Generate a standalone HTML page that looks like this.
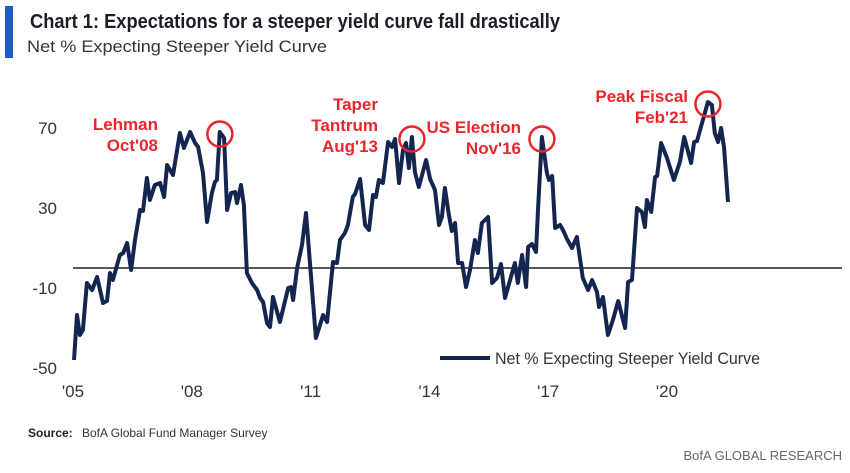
<!DOCTYPE html>
<html><head><meta charset="utf-8"><style>
html,body{margin:0;padding:0;background:#fff;}
svg{display:block;font-family:"Liberation Sans",sans-serif;}
</style></head><body>
<svg id="chart" width="850" height="473" viewBox="0 0 850 473">
<rect x="5" y="6" width="8" height="52" fill="#1f5fbf"/>
<text x="30" y="28" font-size="20" font-weight="bold" fill="#1c1c28" textLength="530" lengthAdjust="spacingAndGlyphs">Chart 1: Expectations for a steeper yield curve fall drastically</text>
<text x="27" y="52" font-size="17" fill="#333" textLength="300" lengthAdjust="spacingAndGlyphs">Net % Expecting Steeper Yield Curve</text>
<g id="yticks"></g>
<g id="xticks"></g>
<line x1="73" y1="268" x2="842" y2="268" stroke="#222" stroke-width="1.5"/>
<path id="series" fill="none" stroke="#142650" stroke-width="4" stroke-linejoin="round"/>
<g id="annots"></g>
<line x1="440" y1="358" x2="490" y2="358" stroke="#142650" stroke-width="4"/>
<text x="495" y="364" font-size="17" fill="#333" textLength="265" lengthAdjust="spacingAndGlyphs">Net % Expecting Steeper Yield Curve</text>
<text x="28" y="437" font-size="12" font-weight="bold" fill="#222">Source:</text>
<text x="82" y="437" font-size="12" fill="#333">BofA Global Fund Manager Survey</text>
<text x="842" y="460" font-size="13" fill="#666" text-anchor="end">BofA GLOBAL RESEARCH</text>
</svg>
<script>
const months = [0.3,1.2,2.1,3.0,4.2,5.8,7.3,9.1,10.3,11.2,12.1,14.2,15.2,16.4,17.6,18.8,20.3,21.2,22.4,23.3,24.8,26.4,27.6,28.5,30.3,32.4,33.6,35.5,37.0,37.9,39.4,40.6,42.1,43.0,43.6,44.5,45.8,46.7,47.9,49.1,49.7,50.9,51.8,52.7,54.2,55.8,56.7,57.6,58.8,59.7,60.6,62.7,65.2,66.1,66.7,67.9,69.4,70.6,73.6,75.8,77.0,78.8,80.0,80.9,82.4,83.3,84.8,85.5,87.0,88.5,89.7,90.9,91.8,92.7,93.9,95.5,96.7,97.6,98.8,100.0,100.9,101.8,102.7,103.6,104.8,107.0,108.2,109.7,110.9,111.8,112.7,113.9,114.8,115.8,116.7,117.9,119.1,120.3,121.8,122.7,123.9,125.8,127.0,128.5,129.7,130.9,133.9,134.8,136.1,137.3,137.9,139.1,140.3,140.9,142.1,143.6,144.2,145.2,146.1,147.6,148.5,149.7,151.2,152.7,154.5,156.1,157.3,158.8,159.4,160.6,162.1,163.6,165.2,167.3,168.2,169.4,170.9,172.4,173.3,173.9,175.2,176.4,177.0,178.2,180.0,182.1,183.9,185.2,187.3,188.2,189.1,192.4,193.6,194.5,195.5,196.4,197.3,198.5];
const values = [-46,-23.5,-33.5,-31,-7.5,-11,-4.5,-17.5,-16.5,-2.5,-6,6.5,7.5,12.5,-1,14,29,28.5,45,34,41.5,42.5,35.5,51.5,46.5,67.5,60,68,62.5,60.5,47.5,23,37.5,43,44,68,65,29,37.5,38,32.5,41.5,31.5,-2.5,-7.5,-11,-15,-17,-27.5,-29.5,-14.5,-27,-10,-9.5,-16,0,11.5,27.5,-35,-23.5,-27,3,2.5,14,17.5,21.5,35.5,37,44.5,21.5,19,36.5,35.5,44,42.5,63,60.5,64.5,42.5,59,62.5,50,65.5,48,40.5,54,44.5,39,21.5,25.5,40,26.5,18.5,22.5,2.5,2.5,-9.5,-1,14,7.5,22.5,25.5,-7.5,-5,2,-15,2.5,-7.5,6.5,-9.5,10.5,12,8,29,65.5,47.5,44,46,20,21.5,19,14.5,10,15.5,-5,-11,-6,-12,-19.5,-14.5,-33.5,-26,-16.5,-30,-7,-6,30,28,20.5,34,28,45.5,46,62.5,55,44,53,65.5,52.5,63,63.5,83,81.5,67.5,63,70,60,33];
const yTicks = [70,30,-10,-50];
const xTickMonths = [0,36,72,108,144,180];
const xTickLabels = ["'05","'08","'11","'14","'17","'20"];
const annotLabels = [["Lehman","Oct'08"],["Taper","Tantrum","Aug'13"],["US Election","Nov'16"],["Peak Fiscal","Feb'21"]];
const annotMonths = [44.5,102.7,142.1,192.4];
const annotValues = [68,65.5,65.5,83];
const annotRight = [158,378,521,688];
const annotTop = [130,110,133,102];

const xs = m => 73 + m*3.3;
const ys = v => 268 - v*2;
const NS = "http://www.w3.org/2000/svg";

let d = "";
months.forEach((m,i)=>{ d += (i?"L":"M") + xs(m).toFixed(1) + "," + ys(values[i]).toFixed(1); });
document.getElementById("series").setAttribute("d", d);

const yg = document.getElementById("yticks");
yTicks.forEach(t=>{
  const e = document.createElementNS(NS,"text");
  e.setAttribute("x", 57); e.setAttribute("y", ys(t)+6);
  e.setAttribute("text-anchor","end"); e.setAttribute("font-size","17"); e.setAttribute("fill","#333");
  
  
  e.textContent = t; yg.appendChild(e);
});
const xg = document.getElementById("xticks");
xTickMonths.forEach((m,i)=>{
  const e = document.createElementNS(NS,"text");
  e.setAttribute("x", xs(m)); e.setAttribute("y", 397);
  e.setAttribute("text-anchor","middle"); e.setAttribute("font-size","17"); e.setAttribute("fill","#333");
  
  
  e.textContent = xTickLabels[i]; xg.appendChild(e);
});
const ag = document.getElementById("annots");
annotMonths.forEach((m,i)=>{
  const cx = xs(m), cy = ys(annotValues[i]);
  const c = document.createElementNS(NS,"circle");
  c.setAttribute("cx",cx); c.setAttribute("cy",cy+2); c.setAttribute("r",12.5);
  c.setAttribute("fill","none"); c.setAttribute("stroke","#e8262b"); c.setAttribute("stroke-width","2.5");
  
  
  ag.appendChild(c);
  annotLabels[i].forEach((s,j)=>{
    const t = document.createElementNS(NS,"text");
    t.setAttribute("x", annotRight[i]); t.setAttribute("y", annotTop[i] + j*21);
    t.setAttribute("text-anchor","end"); t.setAttribute("font-size","17"); t.setAttribute("font-weight","bold"); t.setAttribute("fill","#e8262b");
    
    
    t.textContent = s; ag.appendChild(t);
  });
});
</script>
</body></html>
